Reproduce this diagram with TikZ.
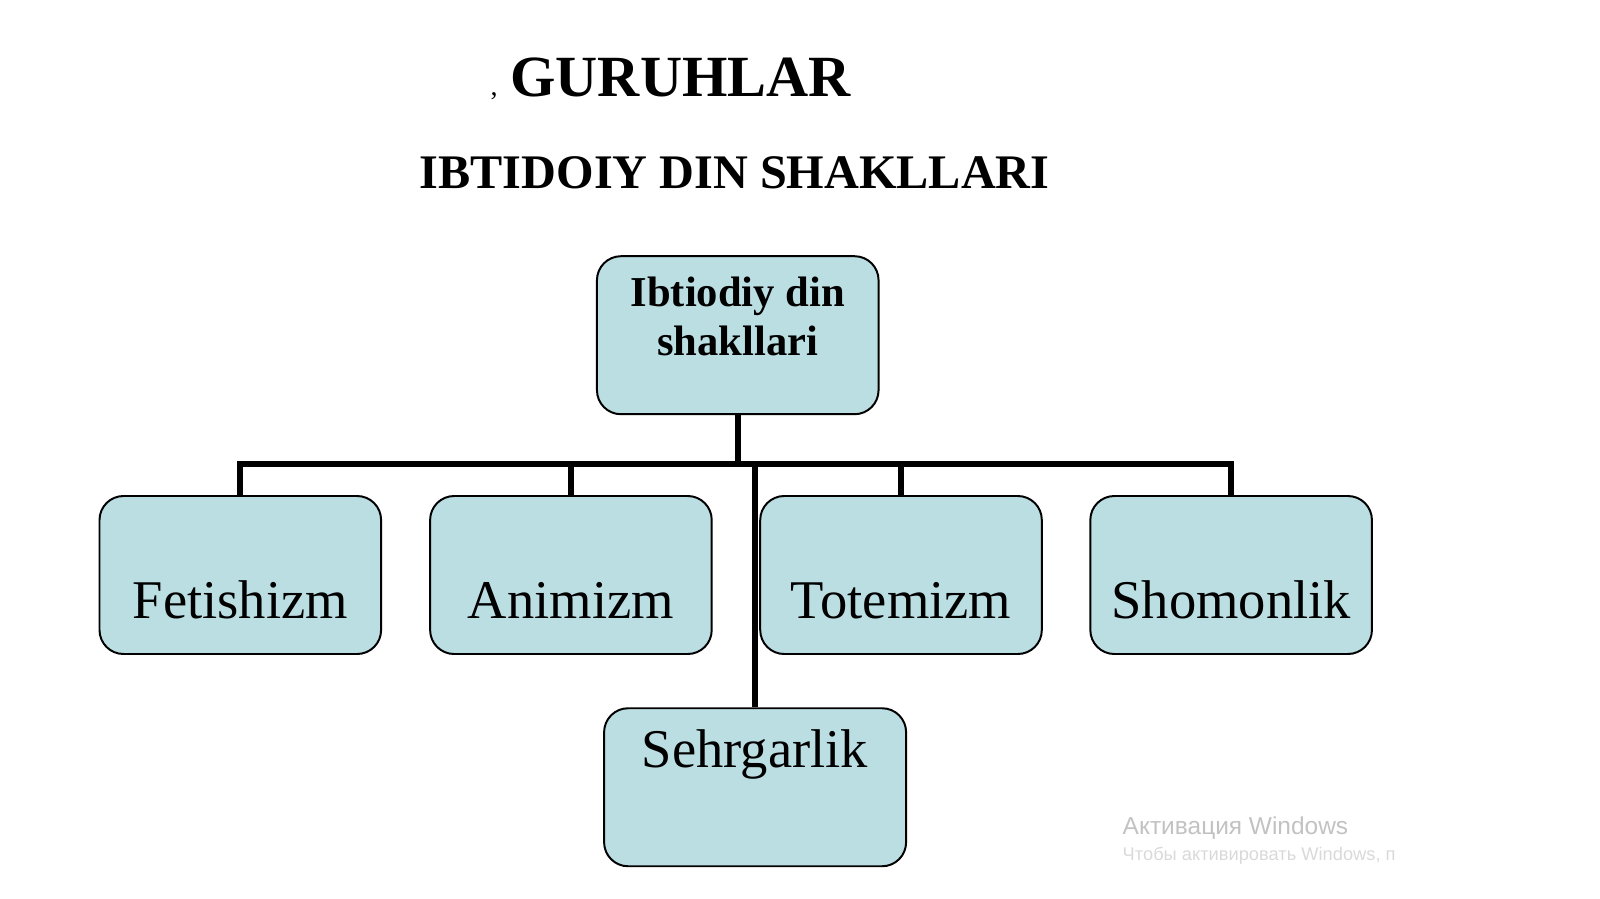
\documentclass[tikz,border=0pt]{standalone}
\usepackage{fontspec}
\setmainfont{Liberation Serif}
\newfontfamily\wmfont{Liberation Sans}
\definecolor{boxfill}{RGB}{187,222,226}
\begin{document}
\begin{tikzpicture}
        [x=1.0204cm, y=1.0204cm, line join=miter,
         formbox/.style={rectangle, rounded corners=6mm, draw=black, line width=1.4pt, fill=boxfill, minimum width=7.04cm, minimum height=3.95cm, inner sep=0pt},
         formtext/.style={anchor=base, inner sep=0pt, font=\fontsize{38.8}{44}\selectfont},
         bar/.style={line width=4pt}]

        \useasboundingbox (0, 0) rectangle (39.2, -22.025);

        % titles
        \node[anchor=base, inner sep=0pt, font=\fontsize{41.5}{46}\selectfont\bfseries] (title) at (16.675, -2.375) {GURUHLAR};
        \node[anchor=base east, inner sep=0pt, font=\fontsize{20}{22}\selectfont] (comma) at (12.2, -2.35) {,};
        \node[anchor=base, inner sep=0pt, font=\fontsize{34.3}{40}\selectfont\bfseries] (subtitle) at (18.0, -4.625) {IBTIDOIY DIN SHAKLLARI};

        % boxes
        \node[formbox] (root) at (18.075, -8.2125) {};
        \node[formbox] (fet) at (5.8875, -14.0875) {};
        \node[formbox] (anim) at (13.9875, -14.0875) {};
        \node[formbox] (tot) at (22.075, -14.0875) {};
        \node[formbox] (shom) at (30.1625, -14.0875) {};
        \node[formbox, minimum width=7.55cm] (sehr) at (18.5, -19.2875) {};

        \node[align=center, inner sep=0pt, font=\fontsize{30.3}{35}\selectfont\bfseries] (roottext) at (18.075, -7.75) {Ibtiodiy din\\shakllari};
        \node[formtext] (fettext) at (5.8875, -15.15) {Fetishizm};
        \node[formtext] (animtext) at (13.9875, -15.15) {Animizm};
        \node[formtext] (tottext) at (22.075, -15.15) {Totemizm};
        \node[formtext] (shomtext) at (30.1625, -15.15) {Shomonlik};
        \node[formtext] (sehrtext) at (18.5, -18.8) {Sehrgarlik};

        % connectors
        \coordinate (bus) at (0, -11.375);
        \draw[bar] (root.south) -- (root.south |- bus);
        \draw[bar] (fet.north) -- (fet.north |- bus) -- (shom.north |- bus) -- (shom.north);
        \draw[bar] (anim.north) -- (anim.north |- bus);
        \draw[bar] (tot.north) -- (tot.north |- bus);
        \draw[bar] (sehr.north) -- (sehr.north |- bus);

        % watermark
        \node[anchor=base west, inner sep=0pt, text=black!24, font=\wmfont\fontsize{17.4}{19}\selectfont] (wm1) at (27.5, -20.45) {Активация Windows};
        \node[anchor=base west, inner sep=0pt, text=black!15, font=\wmfont\fontsize{13}{15}\selectfont] (wm2) at (27.5, -21.07) {Чтобы активировать Windows, п};
    \end{tikzpicture}
\end{document}
